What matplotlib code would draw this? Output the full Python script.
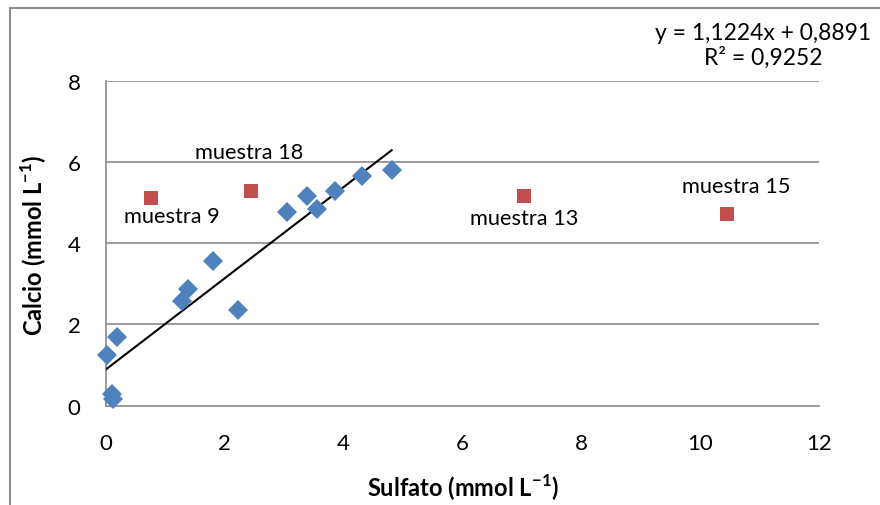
import matplotlib
matplotlib.use("Agg")
import matplotlib.pyplot as plt
from matplotlib.lines import Line2D

plt.rcParams['font.family'] = ['Lato', 'DejaVu Sans']
plt.rcParams['mathtext.fontset'] = 'custom'
plt.rcParams['mathtext.rm'] = 'Lato'
plt.rcParams['mathtext.bf'] = 'Lato:bold'

# Data
sulfato_blue = [0.02, 0.19, 0.10, 0.13, 1.28, 1.39, 1.80, 2.23, 3.05, 3.38, 3.56, 3.85, 4.32, 4.81]
calcio_blue = [1.25, 1.70, 0.29, 0.16, 2.57, 2.87, 3.55, 2.36, 4.78, 5.17, 4.84, 5.29, 5.66, 5.81]
sulfato_red = [0.77, 2.44, 7.04, 10.45]
calcio_red = [5.11, 5.29, 5.17, 4.72]
red_labels = ["muestra 9", "muestra 18", "muestra 13", "muestra 15"]
slope, intercept = 1.1224, 0.8891
equation = "y = 1,1224x + 0,8891\nR² = 0,9252"
xticks = [0, 2, 4, 6, 8, 10, 12]
yticks = [0, 2, 4, 6, 8]

W, H = 880, 506
fig = plt.figure(figsize=(W / 100, H / 100), dpi=100)

def px(x, y):
    return x / W, 1 - y / H

x0, x1 = 105.7, 819.0
y0, y1 = 406.7, 81.7
ax = fig.add_axes([x0 / W, 1 - y0 / H, (x1 - x0) / W, (y0 - y1) / H])
ax.set_xlim(0, 12)
ax.set_ylim(0, 8)

grid_c = '#8a8a8a'
for v in yticks[1:]:
    ax.axhline(v, color=grid_c, lw=1.2, zorder=1)
for s in ['top', 'right']:
    ax.spines[s].set_visible(False)
for s in ['left', 'bottom']:
    ax.spines[s].set_color(grid_c)
    ax.spines[s].set_linewidth(1.2)

ax.set_xticks(xticks)
ax.set_yticks(yticks)
ax.set_xticklabels([str(t) for t in xticks])
ax.set_yticklabels([str(t) for t in yticks])
ax.tick_params(axis='both', length=0, labelsize=16, colors='black')
ax.tick_params(axis='y', pad=18)
ax.tick_params(axis='x', pad=20)

# trendline
xmax = max(sulfato_blue)
ax.plot([0, xmax], [intercept, slope * xmax + intercept], color='black', lw=1.5, zorder=3)

ax.plot(sulfato_blue, calcio_blue, linestyle='none', marker='D', markersize=10.5,
        color='#4F81BD', markeredgewidth=0, zorder=4, clip_on=False)
ax.plot(sulfato_red, calcio_red, linestyle='none', marker='s', markersize=10.5,
        color='#C0504D', markeredgewidth=0, zorder=4, clip_on=False)

# labels for red points (pixel positions: centre x, baseline y)
label_pos = [(171.5, 223), (249, 159), (524, 225), (736, 193)]
for txt, (lx, ly) in zip(red_labels, label_pos):
    fig.text(*px(lx, ly), txt, ha='center', va='baseline', fontsize=15.7)

fig.text(*px(763, 46), equation, ha='center', va='center', fontsize=16.5,
         multialignment='center', linespacing=1.15)

fig.text(*px(463, 497), r'Sulfato (mmol L$^{\mathbf{-1}}$)', ha='center', va='baseline',
         fontsize=17, fontweight='bold')
fig.text(*px(34, 245), r'Calcio (mmol L$^{\mathbf{-1}}$)', ha='center', va='center',
         rotation=90, fontsize=17, fontweight='bold')

# outer chart border (clipped on right and bottom)
fig.add_artist(Line2D([10 / W, 1.0], [1 - 9 / H, 1 - 9 / H], color='#8c8c8c', lw=1.5,
                      transform=fig.transFigure))
fig.add_artist(Line2D([10 / W, 10 / W], [1 - 9 / H, 0.0], color='#8c8c8c', lw=1.5,
                      transform=fig.transFigure))

fig.savefig('out.png', dpi=100)
